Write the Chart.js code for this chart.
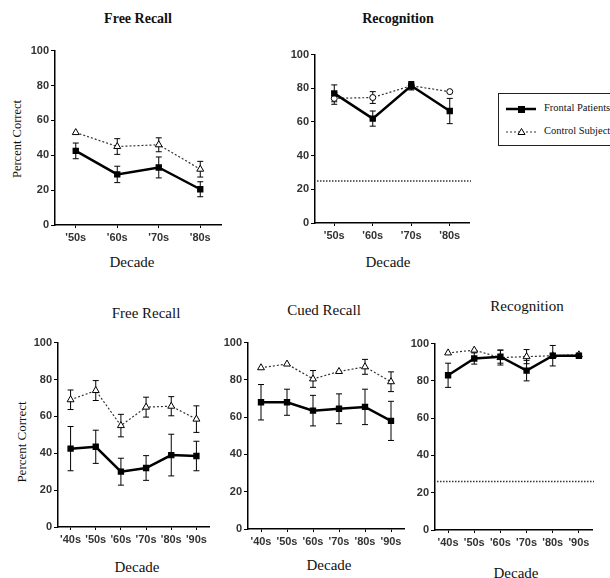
<!DOCTYPE html>
<html lang="en">
<head>
<meta charset="UTF-8" />
<title>Remote Memory by Decade</title>
<script src="https://cdn.jsdelivr.net/npm/chart.js"></script>
<style>
  body {
    margin: 0;
    width: 610px;
    height: 578px;
    overflow: hidden;
    position: relative;
    background: #ffffff;
    color: #111;
    font-family: 'Liberation Serif', 'Times New Roman', serif;
  }
  canvas { position: absolute; }
  .txt {
    position: absolute;
    white-space: nowrap;
    transform: translate(-50%, -50%);
  }
  .title-top { font-weight: bold; font-size: 14px; }
  .title-bot { font-size: 15px; }
  .xlab { font-size: 15px; }
  .ylab { transform: translate(-50%, -50%) rotate(-90deg); }
  #legend {
    position: absolute;
    left: 498px;
    top: 93px;
    width: 130px;
    height: 51px;
    border: 1px solid #222;
  }
  #legend span {
    position: absolute;
    left: 45px;
    font-size: 10.5px;
    font-family: 'Liberation Serif', 'Times New Roman', serif;
  }
</style>
</head>
<body>
  <div class="txt title-top" style="left:138px;top:19px">Free Recall</div>
  <div class="txt title-top" style="left:398px;top:19px">Recognition</div>
  <div class="txt xlab" style="left:132px;top:262px">Decade</div>
  <div class="txt xlab" style="left:388px;top:262px">Decade</div>
  <div class="txt ylab" style="left:17px;top:139px;font-size:12.5px">Percent Correct</div>

  <div class="txt title-bot" style="left:146px;top:313px">Free Recall</div>
  <div class="txt title-bot" style="left:324px;top:310px">Cued Recall</div>
  <div class="txt title-bot" style="left:527px;top:306px">Recognition</div>
  <div class="txt xlab" style="left:137px;top:567px">Decade</div>
  <div class="txt xlab" style="left:329px;top:565px">Decade</div>
  <div class="txt xlab" style="left:516px;top:573px">Decade</div>
  <div class="txt ylab" style="left:22px;top:442px;font-size:13px">Percent Correct</div>

  <div id="legend">
    <svg width="42" height="51" style="position:absolute;left:0;top:0">
      <line x1="7" y1="15" x2="37" y2="15" stroke="#000" stroke-width="2.5" />
      <rect x="19" y="12" width="7" height="7" fill="#000" />
      <line x1="7" y1="38" x2="37" y2="38" stroke="#333" stroke-width="1.2" stroke-dasharray="2,2" />
      <polygon points="22.5,34.5 26,40.5 19,40.5" fill="#fff" stroke="#000" stroke-width="1" />
    </svg>
    <span style="top:8px">Frontal Patients</span>
    <span style="top:31px">Control Subjects</span>
  </div>

<script>
  // decades tested
  const topDecades = ["'50s", "'60s", "'70s", "'80s"];
  const bottomDecades = ["'40s", "'50s", "'60s", "'70s", "'80s", "'90s"];

  // top row, free recall (mean and error)
  const freeRecall1Frontal = [42.5, 29, 33, 20.5];
  const freeRecall1FrontalErr = [4.5, 4.7, 6, 4.3];
  const freeRecall1Control = [53, 45, 46, 32];
  const freeRecall1ControlErr = [0, 4.5, 4, 4.5];

  // top row, recognition
  const recog1Frontal = [77, 62, 81.5, 66.5];
  const recog1FrontalErr = [5, 4.5, 2, 7.5];
  const recog1Control = [74, 74.5, 81.5, 78];
  const recog1ControlErr = [3.5, 3.5, 2.5, 0];
  const recog1Chance = 25;

  // bottom row, free recall
  const freeRecall2Frontal = [42.5, 43.5, 30, 32, 39, 38.5];
  const freeRecall2FrontalErr = [12, 9, 7.3, 6.7, 11.3, 8];
  const freeRecall2Control = [69, 74, 55, 65, 65.5, 58.5];
  const freeRecall2ControlErr = [5.3, 5.4, 6.1, 5.4, 5.2, 7.2];

  // bottom row, cued recall
  const cuedRecallFrontal = [68, 68, 63.5, 64.5, 65.5, 58];
  const cuedRecallFrontalErr = [9.5, 7, 8.2, 8, 9.5, 10.5];
  const cuedRecallControl = [86.5, 88.5, 80.5, 84.5, 87, 79];
  const cuedRecallControlErr = [0, 0, 4.5, 0, 4, 5.3];

  // bottom row, recognition
  const recog2Frontal = [83, 92, 93, 85.5, 93.5, 93.5];
  const recog2FrontalErr = [6.5, 3, 3.5, 5.5, 5.5, 0];
  const recog2Control = [95, 96.5, 92.5, 93, 93.5, 94];
  const recog2ControlErr = [0, 0, 4, 3.8, 0, 0];
  const recog2Chance = 26;

  const Y_AXIS_W = 40;
  const X_AXIS_H = 24;
  const PAD_TOP = 8;
  const PAD_RIGHT = 4;

  // vertical error bars with caps, drawn under the markers
  const errorBars = {
    id: 'errorBars',
    beforeDatasetsDraw(chart) {
      const { ctx, scales: { x, y } } = chart;
      ctx.save();
      ctx.strokeStyle = '#000';
      ctx.lineWidth = 1;
      chart.data.datasets.forEach((ds) => {
        (ds.err || []).forEach((e, i) => {
          if (!e) return;
          const px = x.getPixelForValue(i);
          const hi = y.getPixelForValue(ds.data[i] + e);
          const lo = y.getPixelForValue(ds.data[i] - e);
          ctx.beginPath();
          ctx.moveTo(px, hi); ctx.lineTo(px, lo);
          ctx.moveTo(px - 3, hi); ctx.lineTo(px + 3, hi);
          ctx.moveTo(px - 3, lo); ctx.lineTo(px + 3, lo);
          ctx.stroke();
        });
      });
      ctx.restore();
    },
  };

  // dotted chance-level line across the plot
  const chanceLine = {
    id: 'chance',
    beforeDatasetsDraw(chart, args, opts) {
      if (opts.value == null) return;
      const { ctx, chartArea, scales: { y } } = chart;
      const py = y.getPixelForValue(opts.value);
      ctx.save();
      ctx.strokeStyle = '#333';
      ctx.lineWidth = 1.5;
      ctx.setLineDash([1.5, 1.5]);
      ctx.beginPath();
      ctx.moveTo(chartArea.left + 2, py);
      ctx.lineTo(chartArea.right + 2, py);
      ctx.stroke();
      ctx.restore();
    },
  };

  const tickFont = { family: "'Liberation Sans', Arial, sans-serif", size: 11, weight: 'bold' };

  function makePanel(box, labels, frontal, frontalErr, control, controlErr, chance, controlPoint) {
    const canvas = document.createElement('canvas');
    const w = box.right - box.axisX + Y_AXIS_W + PAD_RIGHT;
    const h = box.y0 - box.y100 + PAD_TOP + X_AXIS_H;
    canvas.width = w;
    canvas.height = h;
    canvas.style.left = box.axisX - Y_AXIS_W + 'px';
    canvas.style.top = box.y100 - PAD_TOP + 'px';
    document.body.appendChild(canvas);

    new Chart(canvas, {
      type: 'line',
      data: {
        labels: labels,
        datasets: [
          {
            label: 'Frontal Patients',
            data: frontal,
            err: frontalErr,
            borderColor: '#000',
            borderWidth: 2.5,
            pointStyle: 'rect',
            pointRadius: 4.5,
            pointBackgroundColor: '#000',
            pointBorderColor: '#000',
            pointBorderWidth: 0,
            order: 0,
          },
          {
            label: 'Control Subjects',
            data: control,
            err: controlErr,
            borderColor: '#333',
            borderWidth: 1.2,
            borderDash: [2, 2],
            pointStyle: controlPoint.style,
            pointRadius: controlPoint.radius,
            pointBackgroundColor: '#fff',
            pointBorderColor: '#000',
            pointBorderWidth: 1,
            order: 1,
          },
        ],
      },
      options: {
        responsive: false,
        animation: false,
        events: [],
        layout: { padding: { top: PAD_TOP, right: PAD_RIGHT, left: 0, bottom: 0 } },
        plugins: {
          legend: { display: false },
          tooltip: { enabled: false },
          chance: { value: chance },
        },
        scales: {
          x: {
            offset: true,
            grid: { drawOnChartArea: false, tickLength: 3, color: '#000' },
            border: { color: '#000', width: 1.5 },
            ticks: { font: tickFont, color: '#333', padding: 3, maxRotation: 0 },
            afterFit: (s) => { s.height = X_AXIS_H; },
          },
          y: {
            min: 0,
            max: 100,
            grid: { drawOnChartArea: false, tickLength: 4, color: '#000' },
            border: { color: '#000', width: 1.5 },
            ticks: { stepSize: 20, font: tickFont, color: '#333', padding: 2 },
            afterFit: (s) => { s.width = Y_AXIS_W; },
          },
        },
      },
      plugins: [chanceLine, errorBars],
    });
  }

  const triangle = { style: 'triangle', radius: 4 };
  const circle = { style: 'circle', radius: 3 };

  makePanel({ axisX: 55, y100: 50, y0: 225, right: 222 }, topDecades,
    freeRecall1Frontal, freeRecall1FrontalErr, freeRecall1Control, freeRecall1ControlErr, null, triangle);
  makePanel({ axisX: 315, y100: 54, y0: 223, right: 470 }, topDecades,
    recog1Frontal, recog1FrontalErr, recog1Control, recog1ControlErr, recog1Chance, circle);
  makePanel({ axisX: 58, y100: 342, y0: 527, right: 210 }, bottomDecades,
    freeRecall2Frontal, freeRecall2FrontalErr, freeRecall2Control, freeRecall2ControlErr, null, triangle);
  makePanel({ axisX: 248, y100: 342, y0: 529, right: 405 }, bottomDecades,
    cuedRecallFrontal, cuedRecallFrontalErr, cuedRecallControl, cuedRecallControlErr, null, triangle);
  makePanel({ axisX: 435, y100: 343, y0: 530, right: 593 }, bottomDecades,
    recog2Frontal, recog2FrontalErr, recog2Control, recog2ControlErr, recog2Chance, triangle);
</script>
</body>
</html>
